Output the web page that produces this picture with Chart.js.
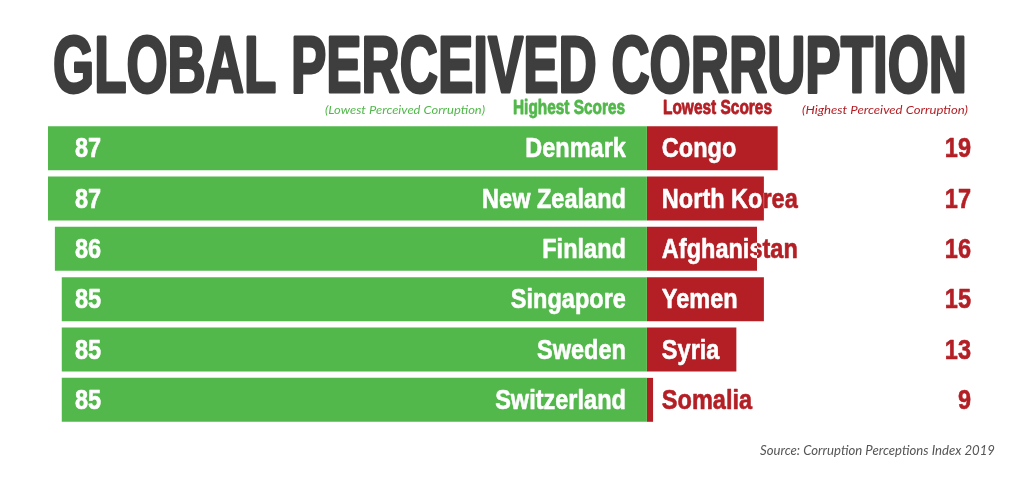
<!DOCTYPE html>
<html>
<head>
<meta charset="utf-8">
<script src="https://cdn.jsdelivr.net/npm/chart.js@4"></script>
<style>
  html, body { margin: 0; padding: 0; background: #fff; }
  #wrap { width: 1024px; height: 497px; }
</style>
</head>
<body>
<div id="wrap"><canvas id="myChart" width="1024" height="497"></canvas></div>
<script>
// data
const highCountries = ["Denmark", "New Zealand", "Finland", "Singapore", "Sweden", "Switzerland"];
const highScores = [87, 87, 86, 85, 85, 85];
const lowCountries = ["Congo", "North Korea", "Afghanistan", "Yemen", "Syria", "Somalia"];
const lowScores = [19, 17, 16, 15, 13, 9];
// red bar lengths as drawn in the picture (not all match the printed score)
const lowBars = [19, 17, 16, 17, 13, 0.9];

const GREEN = "#52b84b";
const RED = "#b31f25";
const TITLE_GREY = "#3e3e3e";

// draw text squeezed horizontally by sx
function squeeze(ctx, text, x, y, font, color, align, sx, stroke) {
  ctx.save();
  ctx.font = font;
  ctx.textBaseline = "alphabetic";
  ctx.textAlign = "left";
  const w = ctx.measureText(text).width * sx;
  let left = x;
  if (align === "right") left = x - w;
  if (align === "center") left = x - w / 2;
  ctx.translate(left, y);
  ctx.scale(sx, 1);
  ctx.fillStyle = color;
  ctx.fillText(text, 0, 0);
  if (stroke) {
    ctx.strokeStyle = color;
    ctx.lineWidth = stroke;
    ctx.lineJoin = "round";
    ctx.strokeText(text, 0, 0);
  }
  ctx.restore();
}

// draw text fitted between left and right
function fit(ctx, text, left, right, y, font, color, stroke) {
  ctx.save();
  ctx.font = font;
  const sx = (right - left) / ctx.measureText(text).width;
  ctx.restore();
  squeeze(ctx, text, left, y, font, color, "left", sx, stroke);
}

const LABEL_FONT = "bold 28px 'Liberation Sans', Arial, sans-serif";
const SX = 0.84;

const labelsPlugin = {
  id: "labels",
  afterDraw(chart) {
    const ctx = chart.ctx;
    const area = chart.chartArea;

    // title and headers
    fit(ctx, "GLOBAL PERCEIVED CORRUPTION", 53, 967, 92,
      "bold 79px 'Liberation Sans', Arial, sans-serif", TITLE_GREY, 3);
    fit(ctx, "(Lowest Perceived Corruption)", 325, 485, 114,
      "italic 12px Lato, sans-serif", GREEN);
    fit(ctx, "Highest Scores", 513, 625, 114,
      "bold 20px 'Liberation Sans', Arial, sans-serif", GREEN, 0.8);
    fit(ctx, "Lowest Scores", 663, 772, 114,
      "bold 20px 'Liberation Sans', Arial, sans-serif", RED, 0.8);
    fit(ctx, "(Highest Perceived Corruption)", 802, 968, 114,
      "italic 12px Lato, sans-serif", RED);
    fit(ctx, "Source: Corruption Perceptions Index 2019", 760, 995, 455,
      "italic 13px Lato, sans-serif", "#555555");

    const greenMeta = chart.getDatasetMeta(0);
    const redMeta = chart.getDatasetMeta(1);

    greenMeta.data.forEach((bar, i) => {
      const y = bar.y + 9;
      squeeze(ctx, highCountries[i], bar.base - 21, y, LABEL_FONT, "#ffffff", "right", SX, 0.6);
      squeeze(ctx, String(highScores[i]), area.left + 27, y, LABEL_FONT, "#ffffff", "left", SX, 0.6);
    });

    redMeta.data.forEach((bar, i) => {
      const y = bar.y + 9;
      const tx = bar.base + 15;
      squeeze(ctx, lowCountries[i], tx, y, LABEL_FONT, RED, "left", SX, 0.6);
      // white part where the text sits on the bar
      ctx.save();
      ctx.beginPath();
      ctx.rect(Math.min(bar.base, bar.x), bar.y - bar.height / 2,
        Math.abs(bar.x - bar.base), bar.height);
      ctx.clip();
      squeeze(ctx, lowCountries[i], tx, y, LABEL_FONT, "#ffffff", "left", SX, 0.6);
      ctx.restore();
      squeeze(ctx, String(lowScores[i]), area.right - 29, y, LABEL_FONT, RED, "right", SX, 0.6);
    });
  },
};

const data = {
  labels: highCountries,
  datasets: [
    {
      label: "Highest Scores",
      data: highScores.map((v) => -v),
      backgroundColor: GREEN,
      borderWidth: 0,
      barPercentage: 1,
      categoryPercentage: 0.873,
    },
    {
      label: "Lowest Scores",
      data: lowBars,
      backgroundColor: RED,
      borderWidth: 0,
      barPercentage: 1,
      categoryPercentage: 0.873,
    },
  ],
};

const config = {
  type: "bar",
  data: data,
  options: {
    indexAxis: "y",
    responsive: false,
    animation: false,
    layout: {
      padding: { left: 48, right: 24, top: 123, bottom: 72 },
    },
    plugins: {
      legend: { display: false },
      title: { display: false },
      tooltip: { enabled: false },
    },
    scales: {
      x: {
        display: false,
        stacked: true,
        min: -87,
        max: 51.3,
      },
      y: {
        display: false,
        stacked: true,
      },
    },
  },
  plugins: [labelsPlugin],
};

const chart = new Chart(document.getElementById("myChart"), config);
</script>
</body>
</html>
